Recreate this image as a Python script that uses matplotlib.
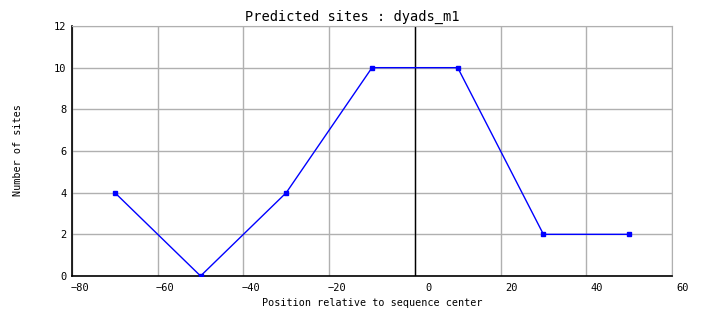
import matplotlib
matplotlib.use("Agg")
import matplotlib.pyplot as plt
import matplotlib.transforms as mtransforms

# data
positions = [-70, -50, -30, -10, 10, 30, 50]
site_counts = [4, 0, 4, 10, 10, 2, 2]

x_ticks = [-80, -60, -40, -20, 0, 20, 40, 60]
y_ticks = [0, 2, 4, 6, 8, 10, 12]

plt.rcParams["font.family"] = ["DejaVu Sans Mono"]

fig = plt.figure(figsize=(7.04, 3.28), dpi=100)
W, H = 704, 328
ax = fig.add_axes([72 / W, (H - 276) / H, 600 / W, 250 / H])

grid_col = "#b0b0b0"
ax.set_xlim(-80, 60)
ax.set_ylim(0, 12)
ax.set_xticks(x_ticks)
ax.set_yticks(y_ticks)
ax.grid(True, color=grid_col, linewidth=1)
ax.set_axisbelow(True)

for side in ["top", "right"]:
    ax.spines[side].set_color(grid_col)
for side in ["left", "bottom"]:
    ax.spines[side].set_color("black")
    ax.spines[side].set_linewidth(1.2)

ax.axvline(0, color="black", linewidth=1, zorder=1.5)

ax.plot(positions, site_counts, color="blue", linewidth=1,
        marker="s", markersize=2.5, zorder=3)

ax.tick_params(axis="both", length=0, labelsize=7.5)
ax.tick_params(axis="x", pad=5)
ax.tick_params(axis="y", pad=4)

# x tick labels sit right-aligned a bit to the right of their gridline
offset = mtransforms.ScaledTranslation(17 / 100, 0, fig.dpi_scale_trans)
for lbl in ax.get_xticklabels():
    lbl.set_horizontalalignment("right")
    lbl.set_transform(lbl.get_transform() + offset)

fig.text(0.5, (H - 17) / H, "Predicted sites : dyads_m1", ha="center",
         va="center", fontsize=9.8)
ax.set_xlabel("Position relative to sequence center", fontsize=7.3, labelpad=4)
fig.text(18 / W, (H - 150) / H, "Number of sites", rotation=90,
         ha="center", va="center", fontsize=7.3)

fig.savefig("out.png", dpi=100)
